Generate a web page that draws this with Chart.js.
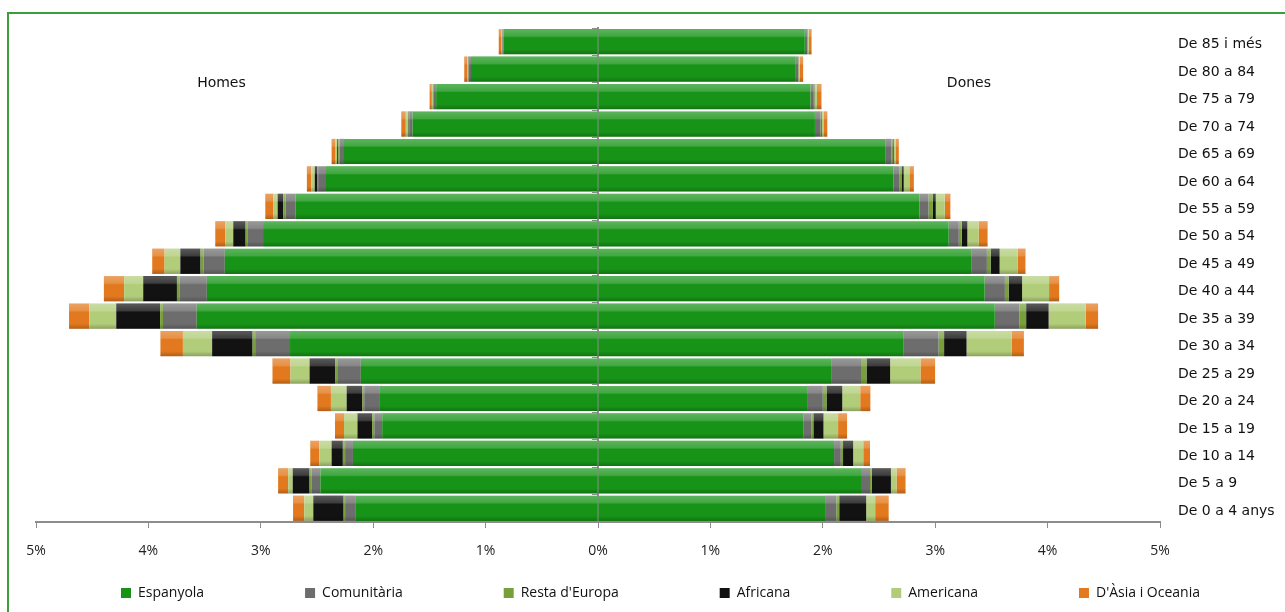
<!DOCTYPE html>
<html>
<head>
<meta charset="utf-8">
<script src="https://cdn.jsdelivr.net/npm/chart.js@4.4.0/dist/chart.umd.min.js"></script>
<style>
  html, body { margin: 0; padding: 0; background: #fff; }
  #wrap { position: relative; width: 1285px; height: 612px; overflow: hidden; }
  #frame { position: absolute; left: 7px; top: 12px; width: 1300px; height: 640px; border: 2px solid #3b9e3b; pointer-events: none; }
</style>
</head>
<body>
<div id="wrap">
  <canvas id="pyramid" width="1285" height="612"></canvas>
  <div id="frame"></div>
</div>
<script>
// grups d'edat, del més jove al més gran
const ageGroups = ['De 0 a 4 anys', 'De 5 a 9', 'De 10 a 14', 'De 15 a 19', 'De 20 a 24', 'De 25 a 29',
  'De 30 a 34', 'De 35 a 39', 'De 40 a 44', 'De 45 a 49', 'De 50 a 54', 'De 55 a 59',
  'De 60 a 64', 'De 65 a 69', 'De 70 a 74', 'De 75 a 79', 'De 80 a 84', 'De 85 i més'];

const nationalities = ['Espanyola', 'Comunitària', "Resta d'Europa", 'Africana', 'Americana', "D'Àsia i Oceania"];
const nationalityColors = ['#179417', '#6d6d6d', '#78a03a', '#121212', '#b2cd7a', '#e2791e'];

// % sobre el total, homes
const espanyolaHomes = [2.16, 2.47, 2.18, 1.92, 1.94, 2.11, 2.74, 3.57, 3.48, 3.32, 2.98, 2.69, 2.42, 2.26, 1.65, 1.44, 1.13, 0.84];
const comunitariaHomes = [0.09, 0.08, 0.07, 0.07, 0.14, 0.21, 0.31, 0.30, 0.24, 0.19, 0.14, 0.09, 0.07, 0.04, 0.03, 0.02, 0.02, 0.01];
const restaEuropaHomes = [0.013, 0.016, 0.02, 0.02, 0.016, 0.016, 0.023, 0.026, 0.026, 0.026, 0.015, 0.02, 0.01, 0.01, 0.005, 0.005, 0.003, 0.002];
const africanaHomes = [0.27, 0.15, 0.10, 0.13, 0.14, 0.23, 0.36, 0.39, 0.30, 0.18, 0.11, 0.05, 0.02, 0.01, 0.005, 0.003, 0.002, 0.001];
const americanaHomes = [0.08, 0.04, 0.11, 0.12, 0.14, 0.17, 0.26, 0.24, 0.17, 0.14, 0.07, 0.04, 0.03, 0.02, 0.02, 0.01, 0.01, 0.01];
const asiaHomes = [0.10, 0.09, 0.08, 0.08, 0.12, 0.16, 0.20, 0.18, 0.18, 0.11, 0.09, 0.07, 0.04, 0.03, 0.04, 0.02, 0.025, 0.02];

// % sobre el total, dones
const espanyolaDones = [2.02, 2.34, 2.10, 1.83, 1.86, 2.08, 2.72, 3.53, 3.44, 3.32, 3.12, 2.86, 2.63, 2.56, 1.93, 1.89, 1.76, 1.84];
const comunitariaDones = [0.10, 0.08, 0.06, 0.07, 0.14, 0.26, 0.31, 0.22, 0.18, 0.14, 0.09, 0.08, 0.05, 0.05, 0.05, 0.03, 0.02, 0.02];
const restaEuropaDones = [0.026, 0.016, 0.02, 0.016, 0.033, 0.049, 0.049, 0.059, 0.033, 0.033, 0.026, 0.04, 0.02, 0.01, 0.005, 0.005, 0.003, 0.003];
const africanaDones = [0.24, 0.17, 0.09, 0.09, 0.14, 0.21, 0.20, 0.20, 0.12, 0.08, 0.05, 0.025, 0.02, 0.01, 0.005, 0.003, 0.002, 0.002];
const americanaDones = [0.08, 0.05, 0.09, 0.13, 0.16, 0.27, 0.40, 0.33, 0.24, 0.16, 0.10, 0.08, 0.05, 0.02, 0.02, 0.02, 0.01, 0.01];
const asiaDones = [0.12, 0.08, 0.06, 0.08, 0.09, 0.13, 0.11, 0.11, 0.09, 0.07, 0.08, 0.05, 0.04, 0.026, 0.03, 0.04, 0.03, 0.025];

const xTicks = [-5, -4, -3, -2, -1, 0, 1, 2, 3, 4, 5];

const homesSeries = [espanyolaHomes, comunitariaHomes, restaEuropaHomes, africanaHomes, americanaHomes, asiaHomes];
const donesSeries = [espanyolaDones, comunitariaDones, restaEuropaDones, africanaDones, americanaDones, asiaDones];

const labelFont = { family: "'DejaVu Sans', 'Liberation Sans', sans-serif", size: 14 };
const smallFont = { family: "'Open Sans', 'Liberation Sans', sans-serif", size: 14 };
const axisGrey = '#8c8c8c';
const legendGap = ' '.repeat(25);

const datasets = [];
homesSeries.forEach((values, i) => {
    datasets.push({
        label: nationalities[i],
        data: values.map(v => -v),
        backgroundColor: nationalityColors[i],
        stack: 'piramide',
        yAxisID: 'y'
    });
});
donesSeries.forEach((values, i) => {
    datasets.push({
        label: nationalities[i],
        data: values,
        backgroundColor: nationalityColors[i],
        stack: 'piramide',
        yAxisID: 'y'
    });
});

// ombrejat en relleu de les barres
const bevelPlugin = {
    id: 'bevel',
    afterDatasetsDraw(chart) {
        const ctx = chart.ctx;
        chart.data.datasets.forEach((ds, i) => {
            chart.getDatasetMeta(i).data.forEach(bar => {
                const { x, y, base, height } = bar.getProps(['x', 'y', 'base', 'height'], true);
                const w = Math.abs(x - base);
                if (w < 0.5) return;
                const left = Math.min(x, base);
                const top = y - height / 2;
                const g = ctx.createLinearGradient(0, top, 0, top + height);
                g.addColorStop(0, 'rgba(255,255,255,0.30)');
                g.addColorStop(0.28, 'rgba(255,255,255,0.18)');
                g.addColorStop(0.34, 'rgba(255,255,255,0)');
                g.addColorStop(0.8, 'rgba(0,0,0,0)');
                g.addColorStop(1, 'rgba(0,0,0,0.22)');
                ctx.save();
                ctx.fillStyle = g;
                ctx.fillRect(left, top, w, height);
                ctx.restore();
            });
        });
    }
};

// rètols "Homes" i "Dones"
const sideLabelsPlugin = {
    id: 'sideLabels',
    afterDraw(chart) {
        const ctx = chart.ctx;
        const xs = chart.scales.x, ys = chart.scales.y;
        const yPix = ys.getPixelForValue(15.5);
        ctx.save();
        ctx.font = `${labelFont.size}px ${labelFont.family}`;
        ctx.fillStyle = '#111';
        ctx.textAlign = 'center';
        ctx.textBaseline = 'middle';
        ctx.fillText('Homes', xs.getPixelForValue(-3.35), yPix);
        ctx.fillText('Dones', xs.getPixelForValue(3.3), yPix);
        ctx.restore();
    }
};

const ctx = document.getElementById('pyramid').getContext('2d');
new Chart(ctx, {
    type: 'bar',
    data: { labels: ageGroups, datasets: datasets },
    options: {
        indexAxis: 'y',
        responsive: false,
        animation: false,
        layout: { padding: { left: 36, top: 28, bottom: 2, right: 0 } },
        datasets: { bar: { barPercentage: 0.92, categoryPercentage: 1.0, borderWidth: 0 } },
        scales: {
            x: {
                type: 'linear',
                min: -5,
                max: 5,
                stacked: true,
                afterBuildTicks: scale => { scale.ticks = xTicks.map(v => ({ value: v })); },
                afterFit: scale => { scale.height = 54; },
                ticks: {
                    callback: v => Math.abs(v) + '%',
                    font: smallFont,
                    color: '#222',
                    padding: 15
                },
                grid: { drawOnChartArea: false, drawTicks: true, tickLength: 6, color: axisGrey, lineWidth: 1 },
                border: { color: axisGrey, width: 2 }
            },
            y: {
                type: 'category',
                position: 'right',
                reverse: true,
                stacked: true,
                offset: true,
                afterFit: scale => { scale.width = 125; },
                ticks: { font: labelFont, color: '#111', padding: 18, labelOffset: 3 },
                grid: { display: false, drawTicks: false },
                border: { display: false }
            },
            yCenter: {
                type: 'category',
                axis: 'y',
                labels: ageGroups,
                reverse: true,
                offset: true,
                position: { x: 0 },
                ticks: { display: false },
                grid: { drawOnChartArea: false, drawTicks: true, tickLength: 5, offset: true, color: axisGrey },
                border: { color: axisGrey, width: 2 }
            }
        },
        plugins: {
            tooltip: { enabled: false },
            legend: {
                position: 'bottom',
                labels: {
                    filter: item => item.datasetIndex < nationalities.length,
                    generateLabels: chart => Chart.defaults.plugins.legend.labels.generateLabels(chart)
                        .map(item => {
                            if (item.datasetIndex < nationalities.length - 1) item.text = item.text + legendGap;
                            return item;
                        }),
                    boxWidth: 10,
                    boxHeight: 10,
                    padding: 10,
                    font: smallFont,
                    color: '#111'
                }
            }
        }
    },
    plugins: [bevelPlugin, sideLabelsPlugin]
});
</script>
</body>
</html>
